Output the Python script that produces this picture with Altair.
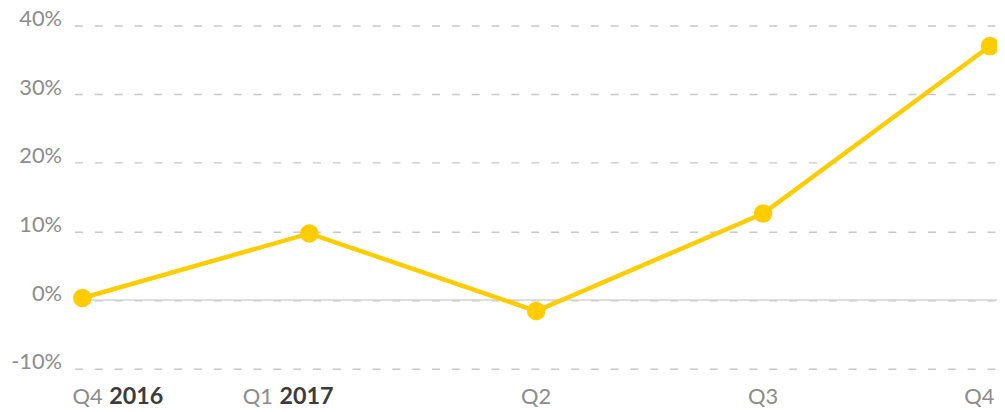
import altair as alt
import pandas as pd

# Data
idx = [0, 1, 2, 3, 4]
quarters = ["Q4", "Q1", "Q2", "Q3", "Q4"]
years = ["2016", "2017", "", "", ""]
growth = [0.3, 9.7, -1.6, 12.6, 37.0]
y_ticks = [-10, 0, 10, 20, 30, 40]

df = pd.DataFrame({"i": idx, "q": quarters, "yr": years, "v": growth})

GOLD = "#FFCC00"
FONT = "Lato"
W, H = 930, 346

xs = alt.Scale(domain=[-0.035, 4.031], nice=False, zero=False)
ys = alt.Scale(domain=[-10, 40], nice=False, zero=False)

yaxis = alt.Axis(
    values=y_ticks,
    labelExpr="datum.value + '%'",
    domain=False,
    ticks=False,
    grid=True,
    gridDash=[8, 12],
    gridColor="#c8c8c8",
    gridWidth=1.5,
    labelColor="#8c8c8c",
    labelFont=FONT,
    labelFontSize=22,
    labelPadding=13,
    labelBaseline="alphabetic",
    title=None,
)

base = alt.Chart(df)

line = base.mark_line(color=GOLD, strokeWidth=4.5).encode(
    x=alt.X("i:Q", scale=xs, axis=None),
    y=alt.Y("v:Q", scale=ys, axis=yaxis),
)

zero = alt.Chart(pd.DataFrame({"v": [0]})).mark_rule(color="#d4d4d4", strokeWidth=1.5).encode(
    y=alt.Y("v:Q", scale=ys, axis=yaxis)
)

pts = base.mark_circle(color=GOLD, opacity=1, size=350).encode(
    x=alt.X("i:Q", scale=xs, axis=None),
    y=alt.Y("v:Q", scale=ys, axis=yaxis),
)


def lab(i, field, dx, align, bold):
    return base.transform_filter(alt.datum.i == i).mark_text(
        align=align,
        baseline="alphabetic",
        dx=dx,
        font=FONT,
        fontSize=23.5 if bold else 22,
        fontWeight="bold" if bold else "normal",
        color="#3c3c3c" if bold else "#8c8c8c",
    ).encode(
        x=alt.X("i:Q", scale=xs, axis=None),
        y=alt.value(H + 36),
        text=f"{field}:N",
    )


labels = [
    lab(0, "q", -10, "left", False),
    lab(0, "yr", 27, "left", True),
    lab(1, "q", -67, "left", False),
    lab(1, "yr", -30, "left", True),
    lab(2, "q", 0, "center", False),
    lab(3, "q", 0, "center", False),
    lab(4, "q", -26, "left", False),
]

chart = alt.layer(zero, line, pts, *labels).properties(
    width=W,
    height=H,
    autosize=alt.AutoSizeParams(type="none"),
    padding={"left": 67, "top": 16, "right": 0, "bottom": 40},
    background="white",
).configure_view(stroke="transparent", strokeWidth=0)

chart.save("out.html", embed_options={"renderer": "svg", "actions": False})
